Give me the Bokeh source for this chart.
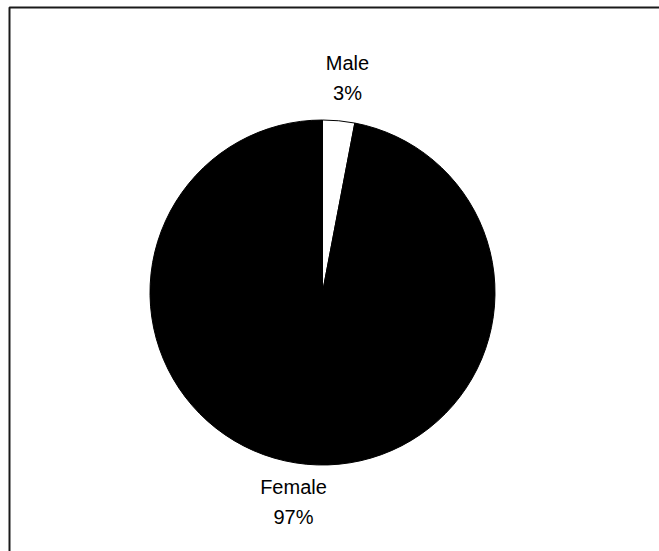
import math
from bokeh.plotting import figure
from bokeh.models import Range1d, ColumnDataSource
from bokeh.core.properties import value
from bokeh.embed import file_html
from bokeh.resources import INLINE

# Data
categories = ["Male", "Female"]
values = [3, 97]
pct_labels = ["3%", "97%"]
colors = ["#ffffff", "#000000"]

W, H = 659, 551
p = figure(width=W, height=H, output_backend="svg", toolbar_location=None,
           x_range=Range1d(0, W), y_range=Range1d(0, H), min_border=0)
p.axis.visible = False
p.grid.visible = False
p.outline_line_color = None
p.background_fill_color = "white"
p.border_fill_color = "white"

# chart frame (extends past the window on right and bottom)
p.quad(left=[9], right=[W + 20], top=[H - 7], bottom=[-20],
       fill_color=None, line_color="#1a1a1a", line_width=2)

cx, cy, r = 322, H - 292, 172.5
total = sum(values)
starts, ends = [], []
cum = 0.0
for v in values:
    t0 = cum / total
    cum += v
    t1 = cum / total
    # clockwise from 12 o'clock
    starts.append(math.pi / 2 - 2 * math.pi * t1)
    ends.append(math.pi / 2 - 2 * math.pi * t0)

src = ColumnDataSource(dict(cat=categories, start=starts, end=ends, color=colors))
p.wedge(x=cx, y=cy, radius=r, start_angle="start", end_angle="end",
        fill_color="color", line_color="black", line_width=1, source=src)

font = value("Liberation Sans")
# labels
lab_x = [347, 293]
lab_y1 = [H - 62.5, H - 486]
lab_y2 = [H - 92.5, H - 516]
p.text(x=lab_x, y=lab_y1, text=categories, text_font=font, text_font_size="20px",
       text_align="center", text_baseline="middle", text_color="black")
p.text(x=lab_x, y=lab_y2, text=pct_labels, text_font=font, text_font_size="20px",
       text_align="center", text_baseline="middle", text_color="black")

open("out.html", "w").write(file_html(p, INLINE))
